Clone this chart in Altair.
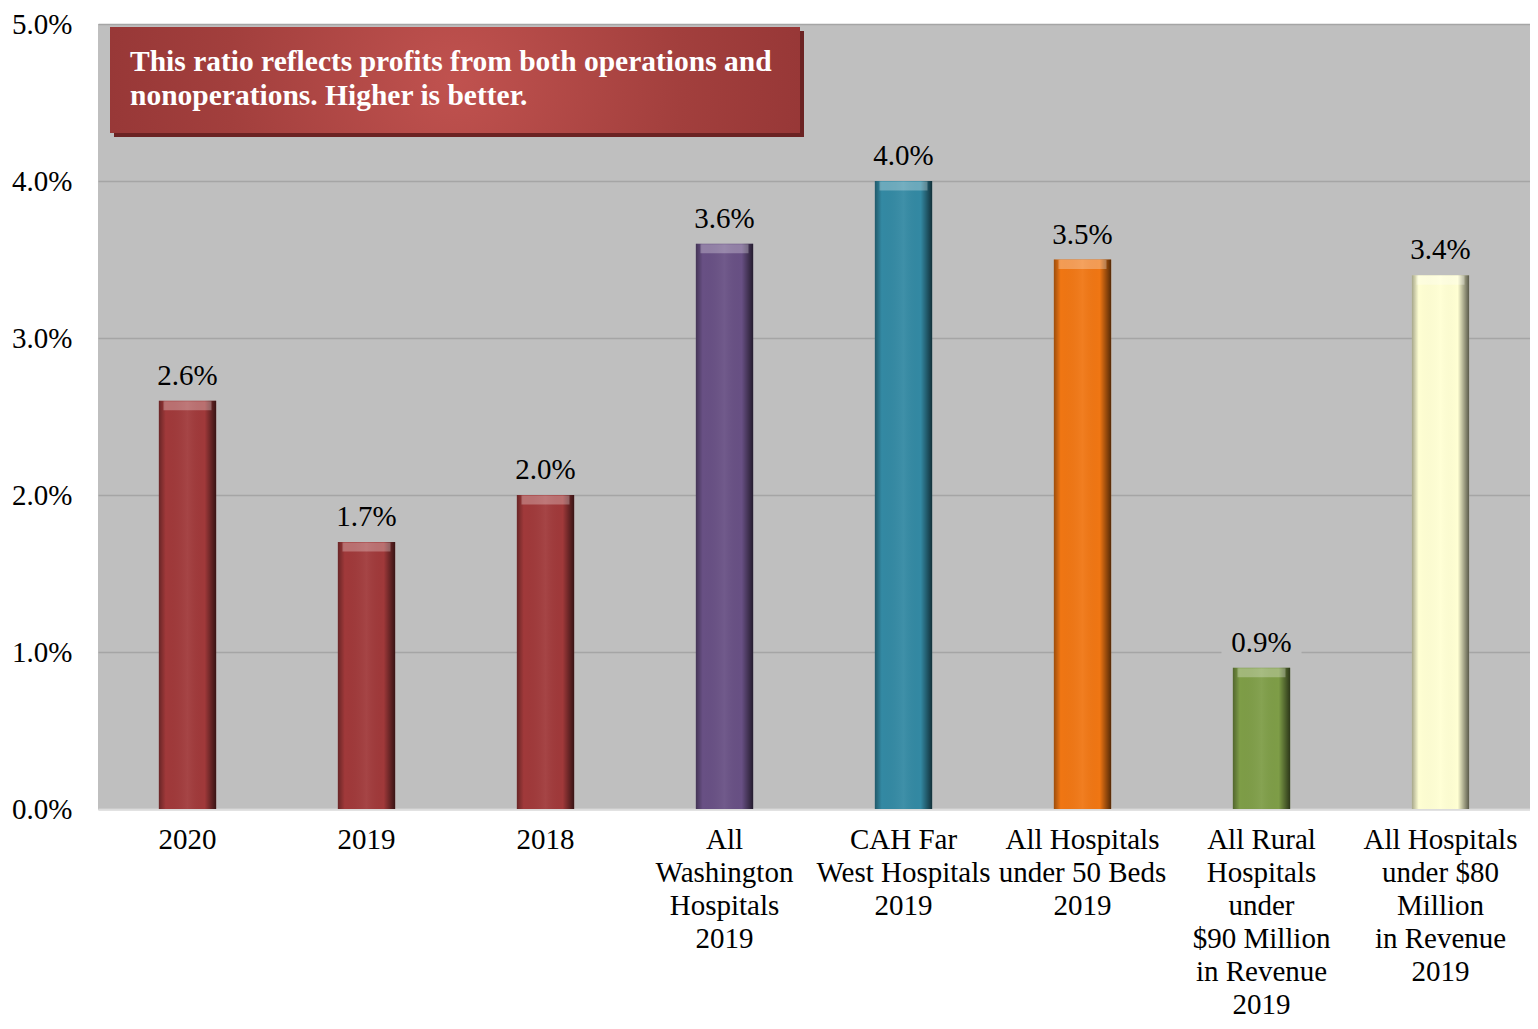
import altair as alt
import pandas as pd

categories = [
    "2020",
    "2019",
    "2018",
    "All|Washington|Hospitals|2019",
    "CAH Far|West Hospitals|2019",
    "All Hospitals|under 50 Beds|2019",
    "All Rural|Hospitals|under|$90 Million|in Revenue|2019",
    "All Hospitals|under $80|Million|in Revenue|2019",
]
values = [0.026, 0.017, 0.020, 0.036, 0.040, 0.035, 0.009, 0.034]
colors = ["#A0393A", "#A0393A", "#A0393A", "#685084", "#3389A3", "#F07613", "#7E9D47", "#FFFFD3"]
y_ticks = [0.0, 0.01, 0.02, 0.03, 0.04, 0.05]
annotation_lines = [
    "This ratio reflects profits from both operations and",
    "nonoperations. Higher is better.",
]

df = pd.DataFrame({"cat": categories, "value": values, "color": colors})

FONT = "Liberation Serif"
BG = "#BFBFBF"
FS = 29

x = alt.X(
    "cat:N",
    sort=categories,
    scale=alt.Scale(paddingInner=0.68, paddingOuter=0.34),
    axis=alt.Axis(
        title=None,
        labelExpr="split(datum.label, '|')",
        labelAngle=0,
        labelFont=FONT,
        labelFontSize=FS,
        labelColor="black",
        labelLineHeight=33,
        labelPadding=16,
        ticks=False,
        domainColor="#DCDCDC",
        domainWidth=2,
    ),
)
y = alt.Y(
    "value:Q",
    scale=alt.Scale(domain=[0, 0.05], nice=False),
    axis=alt.Axis(
        title=None,
        format=".1%",
        values=y_ticks,
        grid=True,
        gridColor="#A5A5A5",
        gridWidth=1.5,
        domain=False,
        ticks=False,
        labelFont=FONT,
        labelFontSize=FS,
        labelColor="black",
        labelPadding=26,
    ),
)

base = alt.Chart(df)

bars = base.mark_bar().encode(x=x, y=y, color=alt.Color("color:N", scale=None))

shade = base.mark_bar(
    color=alt.Gradient(
        gradient="linear",
        x1=0, x2=1, y1=0, y2=0,
        stops=[
            alt.GradientStop(color="rgba(0,0,0,0.35)", offset=0),
            alt.GradientStop(color="rgba(0,0,0,0.0)", offset=0.12),
            alt.GradientStop(color="rgba(255,255,255,0.06)", offset=0.5),
            alt.GradientStop(color="rgba(0,0,0,0.0)", offset=0.8),
            alt.GradientStop(color="rgba(0,0,0,0.65)", offset=1),
        ],
    )
).encode(x=x, y=y)

cap = base.mark_tick(color="white", opacity=0.28, thickness=9, size=48, yOffset=5).encode(x=x, y=y)

label_bg = base.mark_point(
    shape="M-1,-0.44H1V0.44H-1Z", size=6400, filled=True, color=BG, opacity=1, yOffset=-27
).encode(x=x, y=y)

labels = base.mark_text(
    font=FONT, fontSize=FS, color="black", dy=-16, baseline="alphabetic"
).encode(x=x, y=y, text=alt.Text("value:Q", format=".1%"))

one = pd.DataFrame({"k": [0]})
box_shadow = alt.Chart(one).mark_rect(color="#6B2323").encode(
    x=alt.value(16), x2=alt.value(706), y=alt.value(7), y2=alt.value(113)
)
box = alt.Chart(one).mark_rect(
    color=alt.Gradient(
        gradient="radial",
        x1=0.5, y1=0.5, x2=0.5, y2=0.5, r1=0, r2=0.6,
        stops=[
            alt.GradientStop(color="#C0524F", offset=0),
            alt.GradientStop(color="#A23F3D", offset=0.55),
            alt.GradientStop(color="#923434", offset=1),
        ],
    )
).encode(x=alt.value(12), x2=alt.value(702), y=alt.value(3), y2=alt.value(109))
box_text = alt.Chart(one).mark_text(
    text=annotation_lines,
    font=FONT,
    fontSize=29.5,
    fontWeight="bold",
    color="white",
    align="left",
    baseline="alphabetic",
    lineHeight=34,
).encode(x=alt.value(32), y=alt.value(47))

chart = (
    alt.layer(bars, shade, cap, label_bg, labels, box_shadow, box, box_text)
    .properties(
        width=1432,
        height=785,
        autosize=alt.AutoSizeParams(type="none"),
        padding={"left": 90, "top": 16, "right": 0, "bottom": 212},
    )
    .configure_view(fill=BG, stroke=None)
)

chart.save("out.html", embed_options={"renderer": "svg", "actions": False})
